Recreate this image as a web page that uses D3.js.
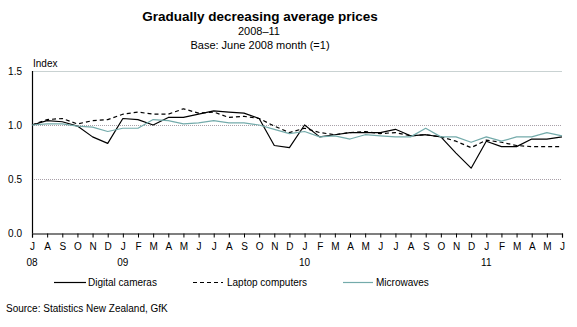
<!DOCTYPE html>
<html>
<head>
<meta charset="utf-8">
<script src="https://cdn.jsdelivr.net/npm/d3@7/dist/d3.min.js"></script>
<style>
  html, body { margin: 0; padding: 0; background: #fff; }
  svg { display: block; font-family: "Liberation Sans", Arial, sans-serif; }
</style>
</head>
<body>
<svg id="chart" width="577" height="327"></svg>
<script>
// Month labels, July 2008 to June 2011
const monthLabels = ["J","A","S","O","N","D","J","F","M","A","M","J",
                     "J","A","S","O","N","D","J","F","M","A","M","J",
                     "J","A","S","O","N","D","J","F","M","A","M","J"];
// Year labels placed under the first month of each year
const yearLabels = [{ i: 0, t: "08" }, { i: 6, t: "09" }, { i: 18, t: "10" }, { i: 30, t: "11" }];
const yTicks = [0, 0.5, 1.0, 1.5];

// Price index series (June 2008 = 1)
const cameras = [1.00,1.04,1.03,0.99,0.89,0.83,1.06,1.05,1.00,1.07,1.07,1.10,
                 1.13,1.12,1.11,1.06,0.81,0.79,1.00,0.89,0.91,0.93,0.93,0.93,
                 0.96,0.90,0.91,0.89,0.74,0.60,0.85,0.80,0.80,0.87,0.87,0.89];
const laptops = [1.00,1.05,1.06,1.01,1.04,1.05,1.10,1.12,1.10,1.10,1.15,1.11,
                 1.12,1.07,1.08,1.06,0.99,0.93,0.97,0.93,0.91,0.93,0.94,0.92,
                 0.93,0.90,0.91,0.89,0.85,0.79,0.86,0.84,0.81,0.80,0.80,0.80];
const microwaves = [1.00,1.01,1.01,0.99,0.98,0.94,0.97,0.97,1.05,1.04,1.01,1.02,
                    1.04,1.02,1.02,1.00,0.96,0.92,0.94,0.89,0.90,0.87,0.91,0.90,
                    0.89,0.89,0.97,0.89,0.89,0.84,0.89,0.85,0.89,0.89,0.93,0.90];

const seriesNames = ["Digital cameras", "Laptop computers", "Microwaves"];

const svg = d3.select("#chart");

const x = d3.scaleLinear().domain([0, monthLabels.length - 1]).range([32, 562]);
const y = d3.scaleLinear().domain([0, 1.5]).range([233, 71]);

const styles = [
  { stroke: "#000", width: 1.2, dash: null },
  { stroke: "#000", width: 1.2, dash: "4,3" },
  { stroke: "#74abab", width: 1.2, dash: null }
];

// Titles
svg.append("text").attr("x", 260).attr("y", 21).attr("text-anchor", "middle")
  .attr("font-size", 13.5).attr("font-weight", "bold").text("Gradually decreasing average prices");
svg.append("text").attr("x", 259).attr("y", 35).attr("text-anchor", "middle")
  .attr("font-size", 11).text("2008–11");
svg.append("text").attr("x", 260).attr("y", 49).attr("text-anchor", "middle")
  .attr("font-size", 11).text("Base: June 2008 month (=1)");
svg.append("text").attr("x", 33).attr("y", 67).attr("font-size", 10).text("Index");

// Gridlines
svg.append("g").selectAll("line").data(yTicks.filter(d => d > 0)).join("line")
  .attr("x1", 32).attr("x2", 562)
  .attr("y1", d => Math.round(y(d)) + 0.5).attr("y2", d => Math.round(y(d)) + 0.5)
  .attr("stroke", d => d === 1.5 ? "#c9d2d2" : "#a8a0a8")
  .attr("stroke-dasharray", d => d === 1.5 ? null : "1,1")
  .attr("stroke-width", 1);

// Y axis labels
svg.append("g").selectAll("text").data(yTicks).join("text")
  .attr("x", 22).attr("y", d => y(d)).attr("dy", "0.35em")
  .attr("text-anchor", "end").attr("font-size", 10)
  .text(d => d3.format(".1f")(d));

// Y axis line
svg.append("line").attr("x1", 32.5).attr("x2", 32.5).attr("y1", 71).attr("y2", 233.5)
  .attr("stroke", "#000").attr("stroke-width", 1.2);

// X axis
const xAxis = d3.axisBottom(x)
  .tickValues(d3.range(monthLabels.length))
  .tickSize(4).tickPadding(5)
  .tickFormat(i => monthLabels[i]);
const gx = svg.append("g").attr("transform", "translate(0,233.5)").call(xAxis);
gx.select(".domain").attr("stroke", "#000").attr("stroke-width", 1.2);
gx.selectAll(".tick line").attr("stroke", "#000");
gx.selectAll(".tick text").attr("font-size", 10).attr("fill", "#000")
  .attr("font-family", "Liberation Sans, Arial, sans-serif");

svg.append("g").selectAll("text").data(yearLabels).join("text")
  .attr("x", d => x(d.i)).attr("y", 266).attr("text-anchor", "middle")
  .attr("font-size", 10).text(d => d.t);

// Series lines
const line = d3.line().x((d, i) => x(i)).y(d => y(d));
[cameras, laptops, microwaves].forEach((s, k) => {
  svg.append("path").datum(s)
    .attr("d", line)
    .attr("fill", "none")
    .attr("stroke", styles[k].stroke)
    .attr("stroke-width", styles[k].width)
    .attr("stroke-dasharray", styles[k].dash)
    .attr("stroke-linejoin", "round");
});

// Legend
const legendPos = [{ x1: 54, x2: 86, tx: 88 }, { x1: 193, x2: 223, tx: 227 }, { x1: 343, x2: 373, tx: 376 }];
seriesNames.forEach((name, k) => {
  const p = legendPos[k];
  svg.append("line").attr("x1", p.x1).attr("x2", p.x2).attr("y1", 282.5).attr("y2", 282.5)
    .attr("stroke", styles[k].stroke).attr("stroke-width", styles[k].width)
    .attr("stroke-dasharray", styles[k].dash);
  svg.append("text").attr("x", p.tx).attr("y", 286).attr("font-size", 10).text(name);
});

// Source note
svg.append("text").attr("x", 6).attr("y", 312).attr("font-size", 10)
  .text("Source: Statistics New Zealand, GfK");
</script>
</body>
</html>
